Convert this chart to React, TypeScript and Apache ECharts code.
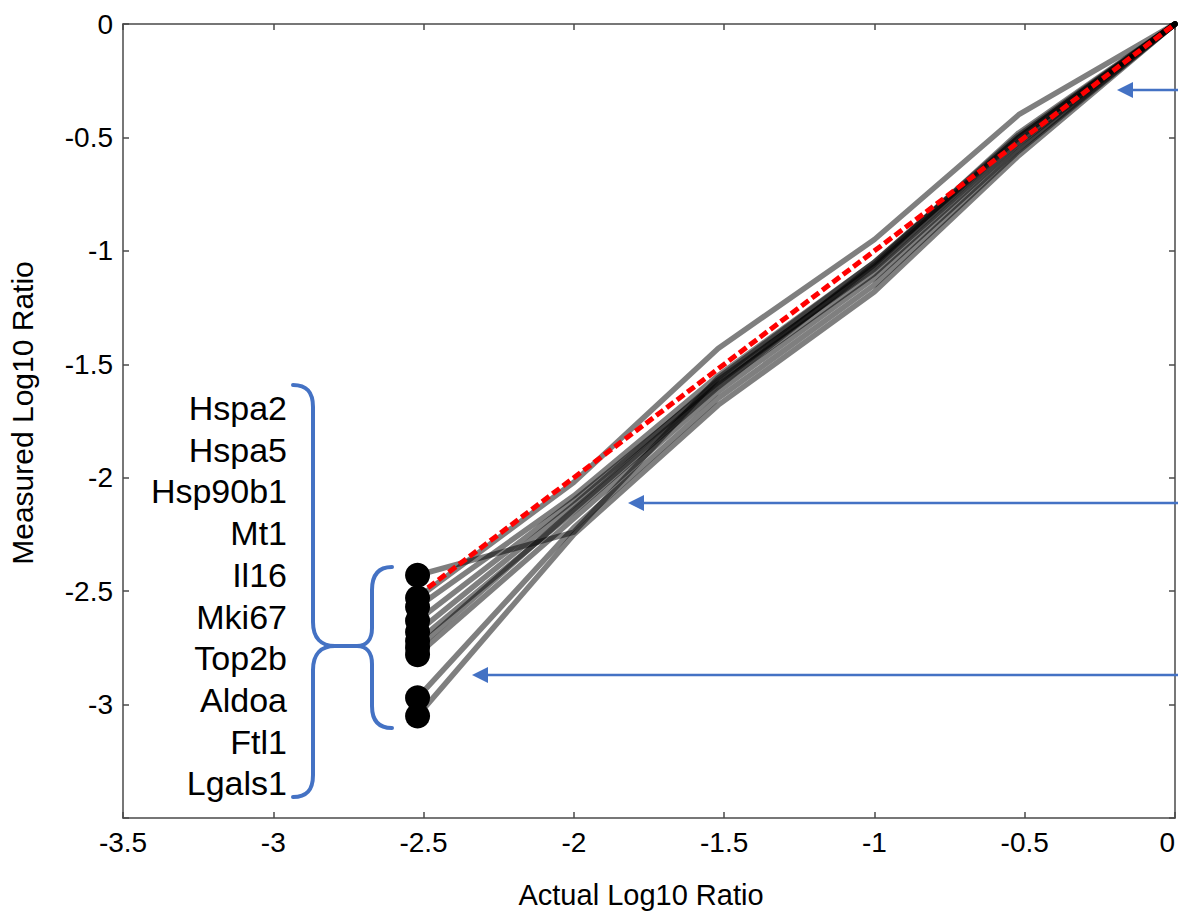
import React, { useEffect, useRef } from "react";
import * as echarts from "echarts";

// Actual log10 ratios of the dilution series
const actualX = [-2.52, -2.0, -1.52, -1.0, -0.52, 0];
// Ideal (identity) line
const idealY = [-2.52, -2.0, -1.52, -1.0, -0.52, 0];

// Measured log10 ratios, one per gene
const lineHspa2 = [-2.43, -2.24, -1.56, -1.05, -0.5, 0];
const lineHspa5 = [-2.53, -2.02, -1.43, -0.95, -0.4, 0];
const lineHsp90b1 = [-2.57, -2.08, -1.55, -1.05, -0.49, 0];
const lineMt1 = [-2.63, -2.1, -1.58, -1.07, -0.5, 0];
const lineIl16 = [-2.68, -2.12, -1.57, -1.08, -0.52, 0];
const lineMki67 = [-2.72, -2.15, -1.6, -1.06, -0.48, 0];
const lineTop2b = [-2.75, -2.14, -1.59, -1.1, -0.53, 0];
const lineAldoa = [-2.78, -2.18, -1.62, -1.12, -0.55, 0];
const lineFtl1 = [-2.97, -2.22, -1.65, -1.15, -0.56, 0];
const lineLgals1 = [-3.05, -2.25, -1.68, -1.18, -0.58, 0];

const geneNames = ["Hspa2", "Hspa5", "Hsp90b1", "Mt1", "Il16", "Mki67", "Top2b", "Aldoa", "Ftl1", "Lgals1"];
const geneLines = [lineHspa2, lineHspa5, lineHsp90b1, lineMt1, lineIl16, lineMki67, lineTop2b, lineAldoa, lineFtl1, lineLgals1];

const axisMin = -3.5;
const axisMax = 0;
const axisInterval = 0.5;

const BLUE = "#4472c4";
const FONT = "'Liberation Sans', Arial, Helvetica, sans-serif";

const braceD =
  "M 293 385 C 307 385 313 392 313 407 L 313 622 C 313 638 321 646 335 646 L 357 646 " +
  "C 366 646 372 640 372 628 L 372 590 C 372 575 378 567 392 567 " +
  "M 293 797 C 307 797 313 790 313 775 L 313 670 C 313 654 321 646 335 646 " +
  "M 357 646 C 366 646 372 652 372 664 L 372 706 C 372 720 378 728 392 728";
echarts.graphic.registerShape("brace", echarts.graphic.extendPath(braceD, {}) as any);

function arrow(tipX: number, y: number) {
  return [
    { type: "line", shape: { x1: 1180, y1: y, x2: tipX + 10, y2: y }, style: { stroke: BLUE, lineWidth: 2.5 }, z: 50 },
    {
      type: "polygon",
      shape: { points: [[tipX, y], [tipX + 16, y - 8], [tipX + 16, y + 8]] },
      style: { fill: BLUE },
      z: 50,
    },
  ];
}

export default function App() {
  const ref = useRef<HTMLDivElement>(null);
  useEffect(() => {
    if (!ref.current) return;
    const chart = echarts.init(ref.current, null, { renderer: "svg" });
    const axisLine = { show: true, onZero: false, lineStyle: { color: "#4a4a4a", width: 1.5 } };
    const axisTick = { show: true, inside: true, length: 6, lineStyle: { color: "#4a4a4a", width: 1.5 } };
    const series: any[] = geneLines.map((vals, i) => ({
      name: geneNames[i],
      type: "line",
      data: actualX.map((x, j) => [x, vals[j]]),
      symbol: "none",
      lineStyle: { color: "rgba(0,0,0,0.5)", width: 5.5, join: "round", cap: "round" },
      z: 2,
    }));
    series.push({
      name: "Ideal",
      type: "line",
      data: actualX.map((x, j) => [x, idealY[j]]),
      symbol: "none",
      lineStyle: { color: "#ff0000", width: 5, type: [9, 4] },
      z: 3,
    });
    series.push({
      name: "Lowest dilution",
      type: "scatter",
      data: geneLines.map((vals) => [actualX[0], vals[0]]),
      symbol: "circle",
      symbolSize: 25,
      itemStyle: { color: "#000", opacity: 1 },
      z: 4,
    });

    const graphic: any[] = [];
    geneNames.forEach((g, i) => {
      graphic.push({
        type: "text",
        x: 287,
        y: 408 + i * 41.7,
        style: { text: g, fontSize: 34, fontFamily: FONT, fill: "#000", textAlign: "right", textVerticalAlign: "middle" },
        z: 50,
      });
    });
    graphic.push({
      type: "brace",
      x: 0,
      y: 0,
      style: { stroke: BLUE, lineWidth: 4, fill: "none", lineCap: "round" },
      z: 50,
    });
    graphic.push(...arrow(1117, 90), ...arrow(628, 503), ...arrow(472, 675));

    chart.setOption({
      animation: false,
      grid: { left: 123, right: 3, top: 24, bottom: 98, containLabel: false, outerBoundsMode: "none" },
      xAxis: [
        {
          type: "value",
          min: axisMin,
          max: axisMax,
          interval: axisInterval,
          position: "bottom",
          axisLine,
          axisTick,
          splitLine: { show: false },
          axisLabel: {
            fontSize: 28,
            color: "#000",
            fontFamily: FONT,
            margin: 10,
            alignMaxLabel: "right",
            formatter: (v: number) => String(v),
          },
          name: "Actual Log10 Ratio",
          nameLocation: "middle",
          nameGap: 62,
          nameTextStyle: { fontSize: 29, color: "#000", fontFamily: FONT, padding: [0, 16, 0, 0] },
        },
        {
          type: "value",
          min: axisMin,
          max: axisMax,
          interval: axisInterval,
          position: "top",
          axisLine,
          axisTick,
          splitLine: { show: false },
          axisLabel: { show: false },
        },
      ],
      yAxis: [
        {
          type: "value",
          min: axisMin,
          max: axisMax,
          interval: axisInterval,
          position: "left",
          axisLine,
          axisTick,
          splitLine: { show: false },
          axisLabel: {
            fontSize: 28,
            color: "#000",
            fontFamily: FONT,
            margin: 10,
            formatter: (v: number) => (v === axisMin ? "" : String(v)),
          },
          name: "Measured Log10 Ratio",
          nameLocation: "middle",
          nameGap: 86,
          nameTextStyle: { fontSize: 30, color: "#000", fontFamily: FONT, padding: [0, 0, 0, 16] },
        },
        {
          type: "value",
          min: axisMin,
          max: axisMax,
          interval: axisInterval,
          position: "right",
          axisLine,
          axisTick,
          splitLine: { show: false },
          axisLabel: { show: false },
        },
      ],
      series,
      graphic,
    });
    return () => chart.dispose();
  }, []);
  return <div ref={ref} style={{ position: "absolute", left: 0, top: 0, width: 1178, height: 916, background: "#fff" }} />;
}
